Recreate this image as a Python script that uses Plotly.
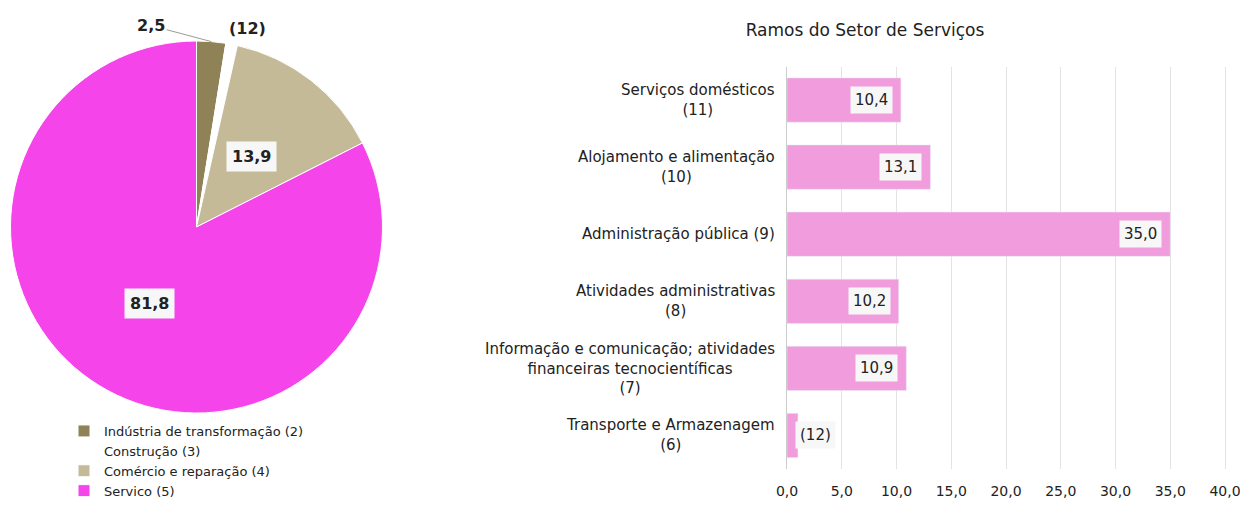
import math
import plotly.graph_objects as go

# the page body has an 8px margin, so the figure is drawn 8px in from the window corner;
# keep the figure small enough that the page does not overflow the window
OFF = 8
W, H = 1248 - 2 * OFF, 507 - 2 * OFF

# pie data
pie_labels = ["Indústria de transformação (2)", "Construção (3)", "Comércio e reparação (4)", "Servico (5)"]
pie_values = [2.5, 1.0, 13.9, 81.8]
pie_text = ["2,5", "(12)", "13,9", "81,8"]
pie_colors = ["#8e8256", "#ffffff", "#c4ba98", "#f545ea"]

# bar data
bar_title = "Ramos do Setor de Serviços"
bar_cats = [
    "Serviços domésticos<br>(11)",
    "Alojamento e alimentação<br>(10)",
    "Administração pública (9)",
    "Atividades administrativas<br>(8)",
    "Informação e comunicação; atividades<br>financeiras tecnocientíficas<br>(7)",
    "Transporte e Armazenagem<br>(6)",
]
bar_values = [10.4, 13.1, 35.0, 10.2, 10.9, 1.0]
bar_text = ["10,4", "13,1", "35,0", "10,2", "10,9", "(12)"]
bar_color = "#f19ddd"
x_max = 40

FONT = "DejaVu Sans, Arial, sans-serif"
TXT = "#222222"


def fx(px):
    return (px - OFF) / W


def fy(py):
    return 1 - (py - OFF) / H


pie_dom_x = [fx(10.5), fx(382.5)]
pie_dom_y = [fy(413), fy(41)]

fig = go.Figure()
fig.add_trace(go.Pie(
    labels=pie_labels, values=pie_values, sort=False, direction="clockwise", rotation=0,
    marker=dict(colors=pie_colors, line=dict(color="#ffffff", width=1)),
    textinfo="none", hoverinfo="label+value",
    domain=dict(x=pie_dom_x, y=pie_dom_y),
))

fig.add_trace(go.Bar(
    x=bar_values, y=bar_cats, orientation="h", marker_color=bar_color,
    width=0.66, showlegend=False, xaxis="x", yaxis="y",
))

# pie label positions from slice angles
cx = (pie_dom_x[0] + pie_dom_x[1]) / 2 * W
cy = (1 - (pie_dom_y[0] + pie_dom_y[1]) / 2) * H
R = min((pie_dom_x[1] - pie_dom_x[0]) * W, (pie_dom_y[1] - pie_dom_y[0]) * H) / 2
total = sum(pie_values)
lab_font = dict(size=16, color=TXT, family=FONT)
anns = []
cum = 0
for i, (v, t) in enumerate(zip(pie_values, pie_text)):
    mid = (cum + v / 2) / total * 2 * math.pi
    cum += v
    if i == 0:
        px, py = cx + R * math.sin(mid), cy - R * math.cos(mid)
        anns.append(dict(x=px / W, y=1 - py / H, xref="paper", yref="paper", text="<b>%s</b>" % t,
                         showarrow=True, arrowhead=0, arrowwidth=1, arrowcolor="#9a9a9a",
                         ax=-60, ay=-16, font=lab_font))
    elif i == 1:
        px, py = cx + R * math.sin(mid), cy - R * math.cos(mid)
        anns.append(dict(x=px / W, y=1 - py / H, xref="paper", yref="paper", text="<b>%s</b>" % t,
                         showarrow=False, xanchor="center", yanchor="middle",
                         xshift=16, yshift=16, font=lab_font))
    else:
        r = 0.48 * R
        px, py = cx + r * math.sin(mid), cy - r * math.cos(mid)
        anns.append(dict(x=px / W, y=1 - py / H, xref="paper", yref="paper", text="<b>%s</b>" % t,
                         showarrow=False, xanchor="center", yanchor="middle",
                         bgcolor="#f7f7f7", borderpad=5, font=lab_font))

# bar category labels (centered multi-line)
for c in bar_cats:
    anns.append(dict(x=fx(777), y=c, xref="paper", yref="y", text=c, showarrow=False,
                     xanchor="right", yanchor="middle", align="center",
                     font=dict(size=15, color=TXT, family=FONT)))

# bar value labels
for c, v, t in zip(bar_cats, bar_values, bar_text):
    if v > 3:
        anns.append(dict(x=v, y=c, xref="x", yref="y", text=t, showarrow=False,
                         xanchor="right", xshift=-8, bgcolor="#f7f7f7", borderpad=4,
                         font=dict(size=15, color=TXT, family=FONT)))
    else:
        anns.append(dict(x=v, y=c, xref="x", yref="y", text=t, showarrow=False,
                         xanchor="left", xshift=-3, bgcolor="#f7f7f7", borderpad=4,
                         font=dict(size=15, color=TXT, family=FONT)))

# 0 at 787px, 40 at 1225px; range padded a little so the 40 gridline is drawn
x0_px, x40_px = 787, 1225
x_hi = x_max + 0.3
x_end_px = x0_px + x_hi * (x40_px - x0_px) / x_max

fig.update_layout(
    width=W, height=H, margin=dict(l=0, r=0, t=0, b=0, autoexpand=False),
    paper_bgcolor="#ffffff", plot_bgcolor="#ffffff",
    separators=",.",
    font=dict(family=FONT, color=TXT, size=13),
    title=dict(text=bar_title, x=fx(865), y=fy(30), xanchor="center", yanchor="middle",
               font=dict(size=17, color=TXT, family=FONT)),
    xaxis=dict(domain=[fx(x0_px), fx(x_end_px)], range=[0, x_hi], tick0=0, dtick=5, tickformat=".1f",
               showgrid=True, gridcolor="#e3e3e3", zeroline=False, showline=False,
               ticks="", ticklabelstandoff=12, automargin=False, ticklabeloverflow="allow",
               tickfont=dict(size=14, color=TXT, family=FONT)),
    yaxis=dict(domain=[fy(469), fy(66.5)], categoryorder="array", categoryarray=bar_cats,
               autorange="reversed", showticklabels=False, showgrid=False, automargin=False,
               showline=True, linecolor="#cccccc", linewidth=1, zeroline=False),
    legend=dict(x=fx(64), y=fy(416), xanchor="left", yanchor="top", tracegroupgap=0,
                font=dict(size=13, color=TXT, family=FONT), itemwidth=30),
    annotations=anns,
)

fig.write_html("out.html")
